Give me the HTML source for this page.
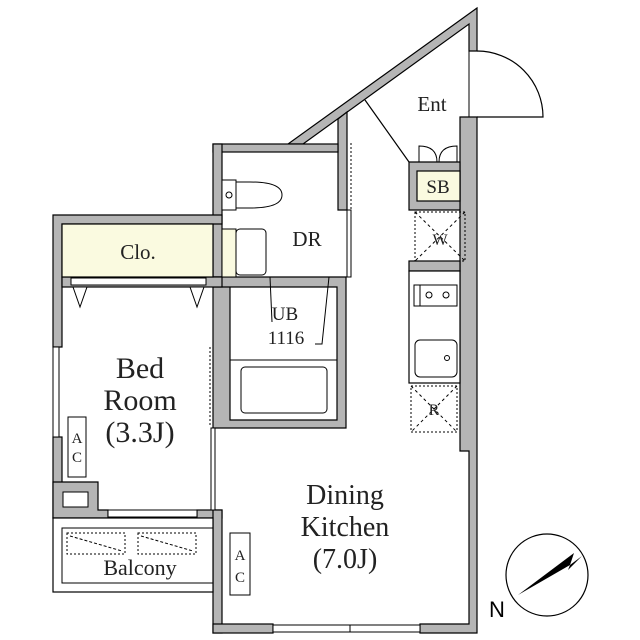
<html><body style="margin:0;background:#fff">
<svg width="640" height="640" viewBox="0 0 640 640" xmlns="http://www.w3.org/2000/svg" font-family="Liberation Serif, serif">
<g fill="#b5b5b5" stroke="#000" stroke-width="1.2">
<polygon points="477,8 288,144 303,144 469,24 469,51 477,51"/>
<polygon points="460,117 477,117 477,633 420,633 420,624 469,624 469,451 460,451"/>
<polygon points="338,119 347,112 347,210 338,210"/>
<rect x="213" y="144" width="125" height="8"/>
<rect x="213" y="144" width="9" height="133"/>
<polygon points="213,277 346,277 346,428 213,428 213,287 230,287 230,420 337,420 337,287 213,287"/>
<polygon points="53,215 222,215 222,224 62,224 62,347 53,347"/>
<rect x="53" y="437" width="9" height="81"/>
<polygon points="62,482 98,482 98,510 108,510 108,518 53,518 53,482"/>
<rect x="197" y="510" width="25" height="8"/>
<rect x="213" y="510" width="9" height="123"/>
<rect x="213" y="624" width="60" height="9"/>
<rect x="62" y="277" width="160" height="10"/>
<polygon points="409,162 460,162 460,210 409,210"/>
<rect x="409" y="261" width="51" height="10"/>
</g>
<rect x="62" y="224" width="151" height="53" fill="#fafae0" stroke="#000" stroke-width="1.2"/>
<rect x="71" y="278" width="135" height="7" fill="#fff" stroke="#000"/>
<polygon points="73,287 87,287 80,307" fill="#fff" stroke="#000"/>
<polygon points="190,287 204,287 197,307" fill="#fff" stroke="#000"/>
<rect x="417" y="171" width="43" height="30" fill="#fafae0" stroke="#000" stroke-width="1.2"/>
<path d="M419,162 V146 Q437,146 437,162 M457,162 V146 Q439,146 439,162" fill="none" stroke="#000"/>
<rect x="415" y="212" width="50" height="49" fill="none" stroke="#000" stroke-dasharray="2,2"/>
<path d="M415,212 L465,261 M465,212 L415,261" stroke="#000" stroke-dasharray="3,3"/>
<rect x="409" y="271" width="51" height="112" fill="#fff" stroke="#000" stroke-width="1.2"/>
<rect x="414" y="285" width="43" height="21" fill="none" stroke="#000"/>
<line x1="420" y1="285" x2="420" y2="306" stroke="#000"/>
<circle cx="429" cy="295" r="3" fill="none" stroke="#000"/><circle cx="446" cy="295" r="3" fill="none" stroke="#000"/>
<rect x="415" y="340" width="42" height="37" rx="5" fill="none" stroke="#000"/>
<circle cx="447" cy="358" r="2.5" fill="none" stroke="#000"/>
<rect x="411" y="386" width="46" height="46" fill="none" stroke="#000" stroke-dasharray="2,2"/>
<path d="M411,386 L457,432 M457,386 L411,432" stroke="#000" stroke-dasharray="3,3"/>
<line x1="365" y1="100" x2="409" y2="162" stroke="#000" stroke-width="1.2"/>
<line x1="469" y1="51" x2="469" y2="117" stroke="#000"/>
<path d="M477,51 A66,66 0 0 1 543,117 L477,117" fill="none" stroke="#000" stroke-width="1.2"/>
<line x1="351" y1="143" x2="351" y2="210" stroke="#000" stroke-dasharray="2,2"/>
<rect x="347" y="210" width="4" height="67" fill="#fff" stroke="#000"/>
<rect x="222" y="180" width="14" height="30" fill="#fff" stroke="#000"/>
<circle cx="229" cy="195" r="3" fill="none" stroke="#000"/>
<path d="M236,182 H250 Q282,182 282,195 Q282,208 250,208 H236" fill="none" stroke="#000"/>
<rect x="222" y="229" width="14" height="48" fill="#fafae0" stroke="#000"/>
<rect x="236" y="229" width="30" height="46" rx="4" fill="#fff" stroke="#000"/>
<line x1="230" y1="360" x2="337" y2="360" stroke="#000"/>
<rect x="241" y="367" width="86" height="46" rx="4" fill="none" stroke="#000"/>
<path d="M270,277 L272,322 M329,277 L322,344 L315,344" fill="none" stroke="#000"/>
<rect x="53" y="347" width="6" height="90" fill="#fff" stroke="#000"/>
<line x1="210" y1="347" x2="210" y2="427" stroke="#000" stroke-dasharray="2,2"/>
<rect x="211" y="428" width="4" height="82" fill="#fff" stroke="#000"/>
<rect x="108" y="510" width="89" height="7" fill="#fff" stroke="#000"/>
<rect x="63" y="492" width="25" height="15" fill="#fff" stroke="#000"/>
<rect x="68" y="417" width="18" height="60" fill="#fff" stroke="#000"/>
<rect x="53" y="518" width="160" height="74" fill="#fff" stroke="#000" stroke-width="1.2"/>
<rect x="62" y="528" width="151" height="55" fill="none" stroke="#000"/>
<rect x="67" y="533" width="58" height="21" fill="none" stroke="#000" stroke-dasharray="2,2"/>
<rect x="138" y="533" width="58" height="21" fill="none" stroke="#000" stroke-dasharray="2,2"/>
<path d="M70,536 L122,551 M141,536 L193,551" stroke="#000" stroke-dasharray="3,2"/>
<rect x="273" y="625" width="147" height="7" fill="#fff" stroke="#000"/>
<line x1="350" y1="625" x2="350" y2="632" stroke="#000"/>
<rect x="230" y="533" width="20" height="62" fill="#fff" stroke="#000"/>
<circle cx="547" cy="575" r="41" fill="none" stroke="#000" stroke-width="1.2"/>
<polygon points="518,595 574,553 570,565" fill="#000"/>
<polygon points="570,565 582,556 568,570" fill="#000"/>
<text x="497" y="617" font-family="Liberation Sans, sans-serif" font-size="22" text-anchor="middle">N</text>
<g text-anchor="middle" fill="#222">
<text x="432" y="111" font-size="21">Ent</text>
<text x="438" y="193" font-size="19">SB</text>
<text x="440" y="245" font-size="16">W</text>
<text x="434" y="415" font-size="16">R</text>
<text x="307" y="246" font-size="21">DR</text>
<text x="138" y="259" font-size="21">Clo.</text>
<text x="285" y="320" font-size="19">UB</text>
<text x="286" y="344" font-size="19">1116</text>
<text x="140" y="378" font-size="30">Bed</text>
<text x="140" y="410" font-size="30">Room</text>
<text x="140" y="442" font-size="30">(3.3J)</text>
<text x="345" y="504" font-size="28">Dining</text>
<text x="345" y="536" font-size="28">Kitchen</text>
<text x="345" y="568" font-size="28">(7.0J)</text>
<text x="140" y="575" font-size="22">Balcony</text>
<text x="77" y="443" font-size="15">A</text>
<text x="77" y="462" font-size="15">C</text>
<text x="240" y="560" font-size="15">A</text>
<text x="240" y="582" font-size="15">C</text>
</g>
</svg>
</body></html>
